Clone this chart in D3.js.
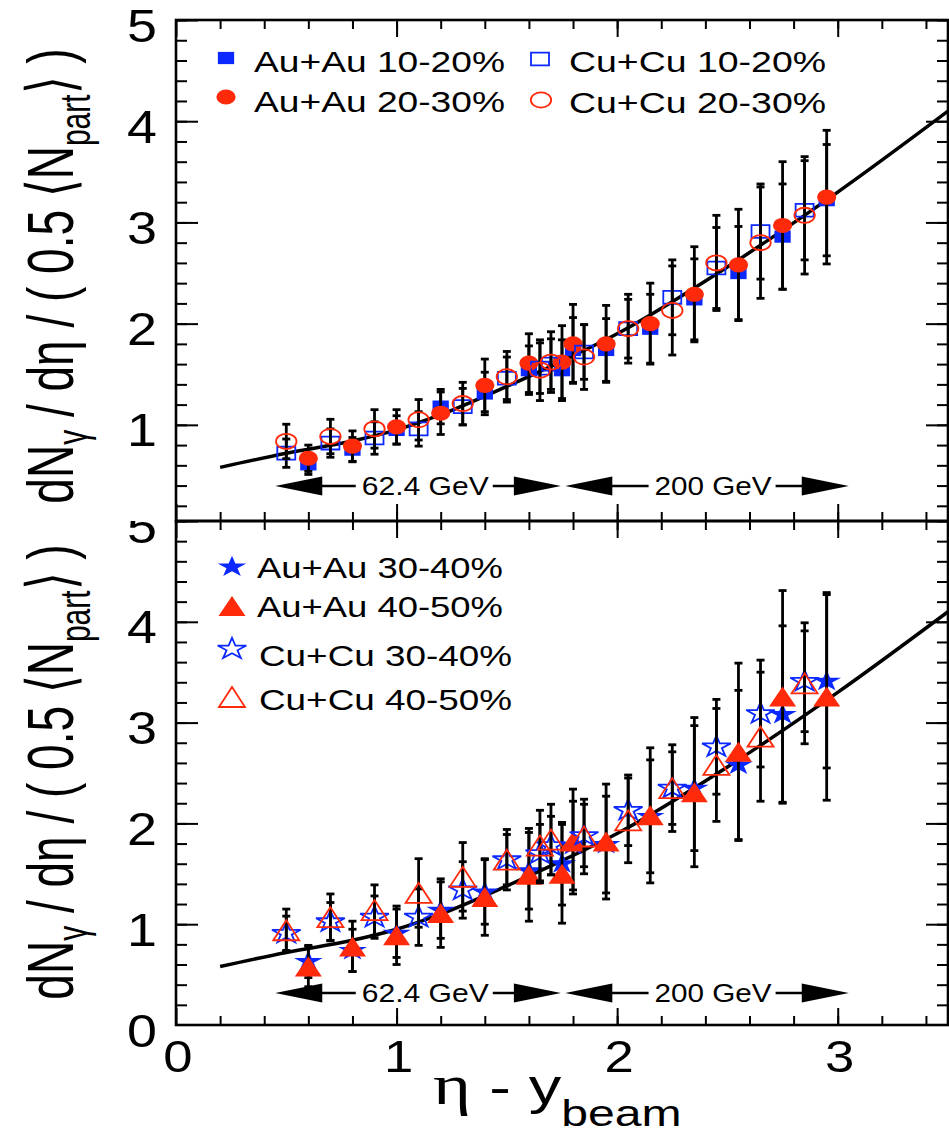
<!DOCTYPE html>
<html>
<head>
<meta charset="utf-8">
<script src="https://cdn.jsdelivr.net/npm/d3@7"></script>
<style>
body { margin: 0; background: #fff; }
svg { display: block; font-family: "Liberation Sans", Arial, Helvetica, sans-serif; }
</style>
</head>
<body>
<div id="chart"></div>
<script>
// bin centres in eta - y_beam (62.4 GeV bins first, then 200 GeV bins)
var xAuAu = [0.6, 0.8, 1.0, 1.2, 1.4, 1.6, 1.8, 1.75, 1.95, 2.15, 2.35, 2.55, 2.75, 2.95];
var xCuCu = [0.5, 0.7, 0.9, 1.1, 1.3, 1.5, 1.7, 1.65, 1.85, 2.05, 2.25, 2.45, 2.65, 2.85];

// upper panel
var auau1020    = [0.61, 0.755, 0.95, 1.18, 1.31, 1.54, 1.74, 1.54, 1.74, 1.95, 2.24, 2.50, 2.86, 3.22];
var auau1020Err = [0.10, 0.12, 0.14, 0.17, 0.21, 0.24, 0.32, 0.30, 0.31, 0.34, 0.40, 0.46, 0.52, 0.55];
var auau2030    = [0.67, 0.79, 0.98, 1.115, 1.39, 1.61, 1.80, 1.62, 1.80, 2.00, 2.29, 2.58, 2.97, 3.25];
var auau2030Err = [0.13, 0.15, 0.17, 0.21, 0.26, 0.29, 0.39, 0.36, 0.38, 0.40, 0.47, 0.55, 0.63, 0.66];
var cucu1020    = [0.72, 0.82, 0.87, 0.96, 1.18, 1.46, 1.60, 1.56, 1.72, 1.95, 2.26, 2.55, 2.91, 3.12];
var cucu1020Err = [0.14, 0.14, 0.16, 0.17, 0.18, 0.21, 0.25, 0.25, 0.27, 0.29, 0.37, 0.40, 0.47, 0.49];
var cucu2030    = [0.836, 0.885, 0.96, 1.05, 1.21, 1.475, 1.62, 1.54, 1.67, 1.95, 2.13, 2.60, 2.80, 3.07];
var cucu2030Err = [0.17, 0.17, 0.19, 0.20, 0.21, 0.25, 0.30, 0.30, 0.32, 0.34, 0.44, 0.47, 0.55, 0.58];

// lower panel
var auau3040    = [0.63, 0.74, 0.91, 1.14, 1.32, 1.53, 1.78, 1.60, 1.79, 2.07, 2.35, 2.58, 3.08, 3.41];
var auau3040Err = [0.16, 0.21, 0.24, 0.28, 0.32, 0.38, 0.44, 0.41, 0.48, 0.56, 0.62, 0.74, 0.88, 0.86];
var auau4050    = [0.58, 0.78, 0.89, 1.11, 1.27, 1.49, 1.82, 1.50, 1.82, 2.08, 2.31, 2.71, 3.26, 3.26];
var auau4050Err = [0.20, 0.25, 0.29, 0.34, 0.38, 0.46, 0.52, 0.49, 0.57, 0.67, 0.74, 0.88, 1.05, 1.03];
var cucu3040    = [0.91, 1.025, 1.07, 1.07, 1.34, 1.64, 1.78, 1.70, 1.88, 2.13, 2.35, 2.76, 3.09, 3.41];
var cucu3040Err = [0.17, 0.19, 0.21, 0.28, 0.28, 0.25, 0.29, 0.29, 0.31, 0.35, 0.36, 0.47, 0.53, 0.50];
var cucu4050    = [0.94, 1.07, 1.14, 1.31, 1.47, 1.64, 1.84, 1.78, 1.87, 2.03, 2.35, 2.58, 2.86, 3.39];
var cucu4050Err = [0.21, 0.23, 0.25, 0.34, 0.34, 0.30, 0.35, 0.35, 0.37, 0.42, 0.43, 0.56, 0.64, 0.60];

// fit curve
var fitX = [0.2, 0.5, 0.8, 1.0, 1.2, 1.5, 1.75, 2.0, 2.5, 3.0, 3.5];
var fitY = [0.58, 0.72, 0.84, 0.95, 1.10, 1.38, 1.63, 1.90, 2.56, 3.30, 4.10];

var xTickLabels = [0, 1, 2, 3];
var yTickLabelsTop = [1, 2, 3, 4, 5];
var yTickLabelsBottom = [0, 1, 2, 3, 4, 5];

var energyLabels = ["62.4 GeV", "200 GeV"];
var energyFrom = [0.45, 1.765];
var energyTo = [1.745, 3.05];
var energyMid = [1.13, 2.435];

var legendTop = ["Au+Au 10-20%", "Au+Au 20-30%", "Cu+Cu 10-20%", "Cu+Cu 20-30%"];
var legendBottom = ["Au+Au 30-40%", "Au+Au 40-50%", "Cu+Cu 30-40%", "Cu+Cu 40-50%"];

(function(){
	var width = 949,
		height = 1143,
		left = 176,
		right = 948;

	var blue = "#0a28ff",
		red = "#ff2a0a";

	var svg = d3.select("#chart")
		.append("svg")
		.attr("width", width)
		.attr("height", height)

	svg.append("rect").attr("width", width).attr("height", height).attr("fill", "#fff")

	var x = d3.scaleLinear().domain([0, 3.5]).range([left, right])
	var yTop = d3.scaleLinear().domain([0.05, 5]).range([521, 20])
	var yBot = d3.scaleLinear().domain([0, 5]).range([1025, 521])

	// marker shapes (picture is stretched sideways, so markers get sx)
	var tri = "M0,-10L10,10L-10,10Z";
	var markers = {
		fSquare: {d: d3.symbol(d3.symbolSquare).size(150)(), sx: 1.33, fill: blue, stroke: "none"},
		fCircle: {d: d3.symbol(d3.symbolCircle).size(180)(), sx: 1.27, fill: red, stroke: "none"},
		oSquare: {d: d3.symbol(d3.symbolSquare).size(165)(), sx: 1.4, fill: "none", stroke: blue},
		oCircle: {d: d3.symbol(d3.symbolCircle).size(180)(), sx: 1.35, fill: "none", stroke: red},
		fStar: {d: d3.symbol(d3.symbolStar).size(140)(), sx: 1.35, fill: blue, stroke: "none"},
		fTri: {d: tri, sx: 1.35, fill: red, stroke: "none"},
		oStar: {d: d3.symbol(d3.symbolStar).size(140)(), sx: 1.35, fill: "none", stroke: blue},
		oTri: {d: tri, sx: 1.3, fill: "none", stroke: red}
	};

	function putMarker(g, m, px, py) {
		return g.append("path")
			.attr("d", m.d)
			.attr("transform", "translate(" + px + "," + py + ") scale(" + m.sx + ",1)")
			.attr("fill", m.fill)
			.attr("stroke", m.stroke)
			.attr("stroke-width", 1.8)
			.attr("vector-effect", "non-scaling-stroke")
	}

	function drawSeries(g, y, xs, vals, errs, m) {
		var pts = xs.map(function(d, i){
			return {x: d, v: vals[i], e: errs[i]};
		});
		var bars = g.append("g").attr("stroke", "#000").attr("stroke-width", 2.8)
		bars.selectAll(".bar").data(pts).enter().append("line")
			.attr("x1", function(d){ return x(d.x) })
			.attr("x2", function(d){ return x(d.x) })
			.attr("y1", function(d){ return y(d.v - d.e) })
			.attr("y2", function(d){ return y(d.v + d.e) })
		bars.selectAll(".capLo").data(pts).enter().append("line")
			.attr("x1", function(d){ return x(d.x) - 4 })
			.attr("x2", function(d){ return x(d.x) + 4 })
			.attr("y1", function(d){ return y(d.v - d.e) })
			.attr("y2", function(d){ return y(d.v - d.e) })
		bars.selectAll(".capHi").data(pts).enter().append("line")
			.attr("x1", function(d){ return x(d.x) - 4 })
			.attr("x2", function(d){ return x(d.x) + 4 })
			.attr("y1", function(d){ return y(d.v + d.e) })
			.attr("y2", function(d){ return y(d.v + d.e) })
		pts.forEach(function(d){
			putMarker(g, m, x(d.x), y(d.v));
		});
	}

	function drawFit(g, y) {
		var line = d3.line()
			.x(function(d){ return x(d[0]) })
			.y(function(d){ return y(d[1]) })
			.curve(d3.curveMonotoneX)
		g.append("path")
			.datum(fitX.map(function(d, i){ return [d, fitY[i]]; }))
			.attr("d", line)
			.attr("fill", "none")
			.attr("stroke", "#000")
			.attr("stroke-width", 3.5)
	}

	function drawEnergy(g, py) {
		energyLabels.forEach(function(lab, i){
			var x0 = x(energyFrom[i]), x1 = x(energyTo[i]), xm = x(energyMid[i]);
			var tw = i == 0 ? 127 : 117;
			g.append("line").attr("x1", x0 + 40).attr("x2", xm - tw / 2 - 6)
				.attr("y1", py).attr("y2", py).attr("stroke", "#000").attr("stroke-width", 2.5)
			g.append("line").attr("x1", xm + tw / 2 + 4).attr("x2", x1 - 40)
				.attr("y1", py).attr("y2", py).attr("stroke", "#000").attr("stroke-width", 2.5)
			g.append("path")
				.attr("d", "M" + x0 + "," + py + "L" + (x0 + 47) + "," + (py - 9.5) + "L" + (x0 + 47) + "," + (py + 9.5) + "Z")
			g.append("path")
				.attr("d", "M" + x1 + "," + py + "L" + (x1 - 47) + "," + (py - 9.5) + "L" + (x1 - 47) + "," + (py + 9.5) + "Z")
			g.append("text")
				.attr("x", xm - tw / 2).attr("y", py + 9)
				.attr("font-size", 25)
				.attr("textLength", tw)
				.attr("lengthAdjust", "spacingAndGlyphs")
				.text(lab)
		});
	}

	function drawFrame(g, y, y0, y1) {
		var minorY = d3.range(0.2, 5.01, 0.2).filter(function(d){ return d >= y.domain()[0]; });
		var minorX = d3.range(0.2, 3.51, 0.2);
		var majorY = d3.range(1, 6).filter(function(d){ return d >= y.domain()[0]; });

		function tickAxis(axis, tr, vals, size) {
			var a = g.append("g").attr("transform", tr)
				.call(axis.tickValues(vals).tickSize(size).tickFormat(""))
			a.select(".domain").remove()
			a.selectAll("line").attr("stroke", "#000").attr("stroke-width", 2)
		}
		tickAxis(d3.axisLeft(y), "translate(" + left + ",0)", minorY, -11)
		tickAxis(d3.axisLeft(y), "translate(" + left + ",0)", majorY, -22)
		tickAxis(d3.axisRight(y), "translate(" + right + ",0)", minorY, -11)
		tickAxis(d3.axisRight(y), "translate(" + right + ",0)", majorY, -22)
		tickAxis(d3.axisBottom(x), "translate(0," + y0 + ")", minorX, -9)
		tickAxis(d3.axisBottom(x), "translate(0," + y0 + ")", xTickLabels, -17)
		tickAxis(d3.axisTop(x), "translate(0," + y1 + ")", minorX, -9)
		tickAxis(d3.axisTop(x), "translate(0," + y1 + ")", xTickLabels, -17)

		g.append("rect")
			.attr("x", left).attr("y", y1)
			.attr("width", right - left).attr("height", y0 - y1)
			.attr("fill", "none").attr("stroke", "#000").attr("stroke-width", 2.6)
	}

	function drawYLabels(g, y, vals) {
		g.selectAll(".yl").data(vals).enter().append("text")
			.attr("transform", function(d){ return "translate(157," + (y(d) + 21.5) + ") scale(1.17,1)" })
			.attr("text-anchor", "end")
			.attr("font-size", 46)
			.text(function(d){ return d })
	}

	function drawYTitle(g, cy) {
		var t = g.append("text")
			.attr("transform", "translate(73," + cy + ") scale(1.42,1) rotate(-90)")
			.attr("text-anchor", "middle")
			.attr("font-size", 46)
		t.append("tspan").text("dN")
		t.append("tspan").attr("font-size", 30).attr("dy", 10).text("γ")
		t.append("tspan").attr("dy", -10).text(" / dη / ( 0.5 ⟨N")
		t.append("tspan").attr("font-size", 30).attr("dy", 12).text("part")
		t.append("tspan").attr("dy", -12).text("⟩ )")
	}

	function legendRow(g, m, mx, my, label, tx, ty, tw) {
		putMarker(g, m, mx, my);
		g.append("text")
			.attr("x", tx).attr("y", ty)
			.attr("font-size", 30)
			.attr("textLength", tw)
			.attr("lengthAdjust", "spacingAndGlyphs")
			.text(label)
	}

	// ---------- lower panel ----------
	var bot = svg.append("g")
	drawFit(bot, yBot)
	drawSeries(bot, yBot, xAuAu, auau3040, auau3040Err, markers.fStar)
	drawSeries(bot, yBot, xAuAu, auau4050, auau4050Err, markers.fTri)
	drawSeries(bot, yBot, xCuCu, cucu3040, cucu3040Err, markers.oStar)
	drawSeries(bot, yBot, xCuCu, cucu4050, cucu4050Err, markers.oTri)
	drawEnergy(bot, 993)
	legendRow(bot, markers.fStar, 232, 567, legendBottom[0], 257, 578, 246)
	legendRow(bot, markers.fTri, 232, 606, legendBottom[1], 257, 617, 246)
	legendRow(bot, markers.oStar, 232, 649, legendBottom[2], 259, 666, 253)
	legendRow(bot, markers.oTri, 232, 697, legendBottom[3], 259, 710, 253)
	drawFrame(bot, yBot, 1025, 521)
	drawYLabels(bot, yBot, yTickLabelsBottom)
	drawYTitle(bot, 772)

	bot.selectAll(".xl").data(xTickLabels).enter().append("text")
		.attr("transform", function(d){ return "translate(" + (x(d) + 2) + ",1072) scale(1.17,1)" })
		.attr("text-anchor", "middle")
		.attr("font-size", 45)
		.text(function(d){ return d })

	var xt = bot.append("text")
		.attr("transform", "translate(433,1104) scale(1.3,1)")
	xt.append("tspan").attr("font-family", "'Liberation Serif', serif").attr("font-size", 56).text("η")
	xt.append("tspan").attr("font-size", 50).text(" - y")
	xt.append("tspan").attr("font-size", 37).attr("dy", 22).text("beam")

	// ---------- upper panel ----------
	var top = svg.append("g")
	top.append("rect").attr("x", 0).attr("y", 0).attr("width", left - 2).attr("height", 521).attr("fill", "#fff")
	drawFit(top, yTop)
	drawSeries(top, yTop, xAuAu, auau1020, auau1020Err, markers.fSquare)
	drawSeries(top, yTop, xAuAu, auau2030, auau2030Err, markers.fCircle)
	drawSeries(top, yTop, xCuCu, cucu1020, cucu1020Err, markers.oSquare)
	drawSeries(top, yTop, xCuCu, cucu2030, cucu2030Err, markers.oCircle)
	drawEnergy(top, 486)
	legendRow(top, markers.fSquare, 226, 58, legendTop[0], 254, 72, 251)
	legendRow(top, markers.fCircle, 226, 97, legendTop[1], 254, 112, 251)
	legendRow(top, markers.oSquare, 540, 59, legendTop[2], 569, 72, 257)
	legendRow(top, markers.oCircle, 541, 100, legendTop[3], 569, 113, 257)
	drawFrame(top, yTop, 521, 20)
	drawYLabels(top, yTop, yTickLabelsTop)
	drawYTitle(top, 276)
})();
</script>
</body>
</html>
